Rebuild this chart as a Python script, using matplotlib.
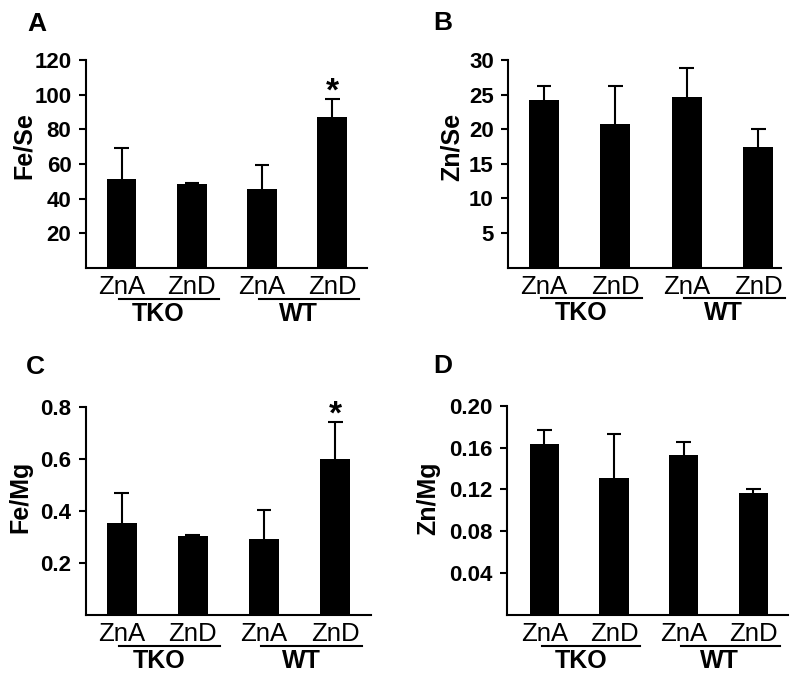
import matplotlib
matplotlib.use("Agg")
import matplotlib.pyplot as plt
from matplotlib.ticker import FormatStrFormatter

plt.rcParams['font.family'] = ['Liberation Sans', 'DejaVu Sans']

# ---- data ----
categories = ["ZnA", "ZnD", "ZnA", "ZnD"]
groups = ["TKO", "WT"]

fe_se_mean = [51.6, 48.7, 45.8, 86.9]
fe_se_err = [17.4, 0.6, 13.9, 10.4]
zn_se_mean = [24.2, 20.7, 24.6, 17.4]
zn_se_err = [2.0, 5.5, 4.3, 2.6]
fe_mg_mean = [0.352, 0.304, 0.290, 0.599]
fe_mg_err = [0.115, 0.005, 0.113, 0.142]
zn_mg_mean = [0.163, 0.131, 0.153, 0.117]
zn_mg_err = [0.014, 0.042, 0.012, 0.003]

fe_se_ticks = [20, 40, 60, 80, 100, 120]
zn_se_ticks = [5, 10, 15, 20, 25, 30]
fe_mg_ticks = [0.2, 0.4, 0.6, 0.8]
zn_mg_ticks = [0.04, 0.08, 0.12, 0.16, 0.20]

fig = plt.figure(figsize=(8, 6.81), dpi=100)

panels = [
    dict(letter="A", ylabel="Fe/Se", mean=fe_se_mean, err=fe_se_err, ticks=fe_se_ticks,
         ylim=(0, 120), fmt=None, star=True,
         rect=[0.1075, 0.6065, 0.3515, 0.3054], xlim=(-0.51, 3.5),
         letter_xy=(37, 24), ylab_x=-0.22, ylab_y=0.587),
    dict(letter="B", ylabel="Zn/Se", mean=zn_se_mean, err=zn_se_err, ticks=zn_se_ticks,
         ylim=(0, 30), fmt=None, star=False,
         rect=[0.6354, 0.607, 0.3408, 0.305], xlim=(-0.5, 3.32),
         letter_xy=(443, 23), ylab_x=-0.208, ylab_y=0.58),
    dict(letter="C", ylabel="Fe/Mg", mean=fe_mg_mean, err=fe_mg_err, ticks=fe_mg_ticks,
         ylim=(0, 0.8), fmt="%.1f", star=True,
         rect=[0.107, 0.0969, 0.3563, 0.3059], xlim=(-0.51, 3.5),
         letter_xy=(35, 367), ylab_x=-0.23, ylab_y=0.566),
    dict(letter="D", ylabel="Zn/Mg", mean=zn_mg_mean, err=zn_mg_err, ticks=zn_mg_ticks,
         ylim=(0, 0.2), fmt="%.2f", star=False,
         rect=[0.634, 0.0969, 0.351, 0.3074], xlim=(-0.535, 3.5),
         letter_xy=(443, 366), ylab_x=-0.282, ylab_y=0.56),
]

W, H = 800, 681
x = list(range(len(categories)))
cap_half = 0.105

for p in panels:
    ax = fig.add_axes(p["rect"])
    tops = [m + e for m, e in zip(p["mean"], p["err"])]
    ax.vlines(x, p["mean"], tops, color="black", lw=1.5, zorder=1)
    ax.hlines(tops, [xi - cap_half for xi in x], [xi + cap_half for xi in x],
              color="black", lw=1.5, zorder=1)
    ax.bar(x, p["mean"], width=0.42, color="black", edgecolor="none", zorder=2)
    ax.set_xlim(*p["xlim"])
    ax.set_ylim(*p["ylim"])
    ax.set_yticks(p["ticks"])
    if p["fmt"]:
        ax.yaxis.set_major_formatter(FormatStrFormatter(p["fmt"]))
    for s in ["top", "right"]:
        ax.spines[s].set_visible(False)
    for s in ["left", "bottom"]:
        ax.spines[s].set_linewidth(1.5)
        ax.spines[s].set_zorder(3)
    ax.tick_params(axis="y", length=5, width=1.5, pad=5.5, labelsize=16)
    for lab in ax.get_yticklabels():
        lab.set_fontweight("bold")
    ax.set_xticks(x)
    ax.set_xticklabels(categories, fontsize=18.5)
    ax.tick_params(axis="x", length=0, pad=5)
    ax.set_ylabel(p["ylabel"], fontsize=18, fontweight="bold", va="center")
    ax.yaxis.set_label_coords(p["ylab_x"], p["ylab_y"])

    # group lines and labels
    trans = ax.get_xaxis_transform()
    for gi, g in enumerate(groups):
        x0 = x[2 * gi] - 0.04
        x1 = x[2 * gi + 1] + 0.38
        ax.plot([x0, x1], [-0.147, -0.147], color="black", lw=1.5,
                transform=trans, clip_on=False)
        ax.text((x[2 * gi] + x[2 * gi + 1]) / 2 + 0.02, -0.22, g, transform=trans,
                ha="center", va="center", fontsize=18, fontweight="bold")

    if p["star"]:
        top = p["mean"][3] + p["err"][3]
        ax.annotate("*", xy=(x[3], top), xytext=(0, -6), textcoords="offset points",
                    ha="center", va="bottom", fontsize=24, fontweight="bold")

    lx, ly = p["letter_xy"]
    fig.text(lx / W, 1 - ly / H, p["letter"], ha="center", va="center",
             fontsize=19, fontweight="bold")

fig.savefig("out.png", dpi=100)
